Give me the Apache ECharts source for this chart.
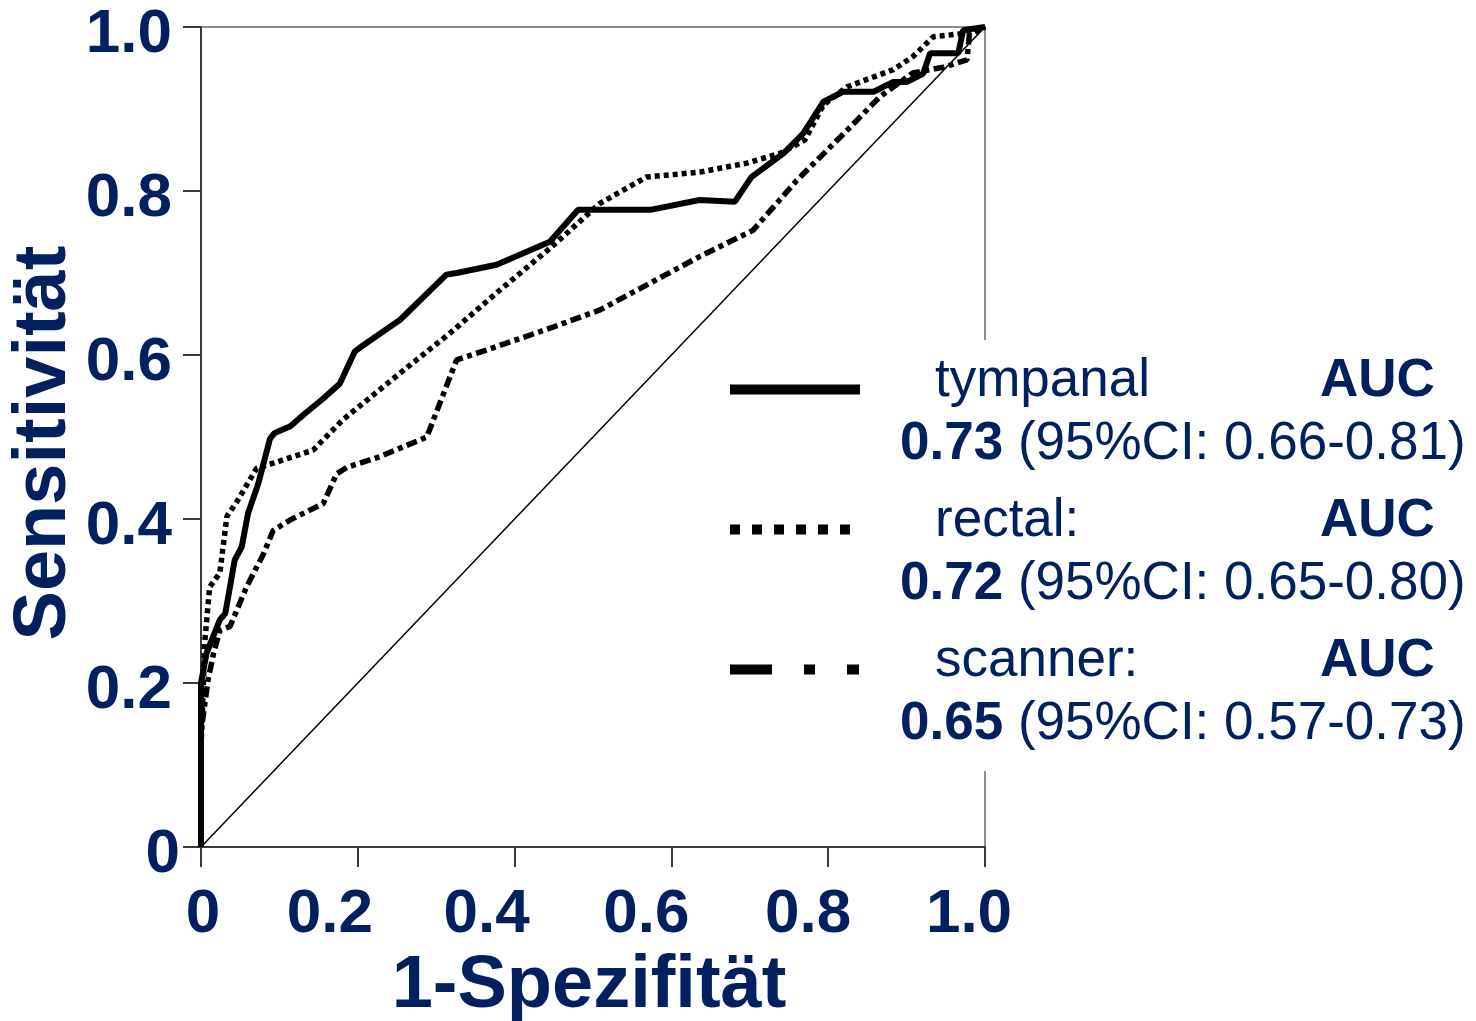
<!DOCTYPE html>
<html>
<head>
    <meta charset="utf-8">
    <title>ROC</title>
    <script src="https://cdn.jsdelivr.net/npm/echarts@6/dist/echarts.min.js"></script>
</head>
<body style="margin:0;background:#fff;">
    <div id="main" style="width:1476px;height:1021px;"></div>
    <script type="text/javascript">
    // ROC-Kurven, Werte [1-Spezifität, Sensitivität]
    var tympanal = [[0,0],[0,0.20],[0.007,0.236],[0.024,0.277],[0.031,0.285],[0.043,0.35],[0.052,0.366],[0.060,0.407],
        [0.073,0.443],[0.088,0.498],[0.094,0.505],[0.114,0.513],[0.133,0.529],[0.156,0.547],[0.177,0.565],[0.196,0.604],
        [0.207,0.612],[0.254,0.643],[0.313,0.698],[0.326,0.700],[0.377,0.710],[0.445,0.738],[0.481,0.777],[0.573,0.777],
        [0.636,0.789],[0.681,0.787],[0.702,0.817],[0.743,0.846],[0.768,0.870],[0.794,0.909],[0.819,0.921],[0.858,0.921],
        [0.883,0.933],[0.900,0.933],[0.921,0.943],[0.930,0.968],[0.966,0.968],[0.972,0.996],[1,1]];
    var rectal = [[0,0],[0,0.12],[0.005,0.252],[0.011,0.317],[0.024,0.334],[0.033,0.403],[0.047,0.423],[0.071,0.462],
        [0.092,0.468],[0.143,0.484],[0.181,0.521],[0.254,0.578],[0.318,0.627],[0.381,0.679],[0.445,0.730],[0.509,0.785],
        [0.568,0.817],[0.636,0.823],[0.696,0.834],[0.739,0.846],[0.770,0.862],[0.794,0.905],[0.824,0.927],[0.883,0.948],
        [0.908,0.964],[0.934,0.988],[0.981,0.993],[1,1]];
    var scanner = [[0,0],[0,0.14],[0.009,0.204],[0.016,0.236],[0.024,0.264],[0.037,0.269],[0.058,0.317],[0.080,0.358],
        [0.092,0.386],[0.114,0.399],[0.156,0.419],[0.173,0.455],[0.186,0.463],[0.228,0.476],[0.288,0.500],[0.326,0.594],
        [0.364,0.606],[0.449,0.634],[0.509,0.655],[0.636,0.720],[0.704,0.752],[0.760,0.813],[0.824,0.874],[0.866,0.915],
        [0.908,0.944],[0.947,0.951],[0.977,0.960],[0.980,0.990],[1,1]];
    var diagonal = [[0,0],[1,1]];

    var seriesNames = ['tympanal', 'rectal:', 'scanner:'];
    var aucValues = ['0.73', '0.72', '0.65'];
    var ciTexts = [' (95%CI: 0.66-0.81)', ' (95%CI: 0.65-0.80)', ' (95%CI: 0.57-0.73)'];
    var xTickLabels = ['0', '0.2', '0.4', '0.6', '0.8', '1.0'];
    var yTickLabels = ['0', '0.2', '0.4', '0.6', '0.8', '1.0'];

    var navy = '#002060';
    var font = "'Liberation Sans', Arial, sans-serif";
    var noSymbol = {color: 'rgba(0,0,0,0)', borderColor: 'rgba(0,0,0,0)', borderWidth: 0};

    function tickStyle(pad) {
        return {fontSize: 62, fontWeight: 'bold', color: navy, fontFamily: font, padding: pad};
    }

    var myChart = echarts.init(document.getElementById('main'));

    var option = {
        animation: false,
        grid: {
            left: 201, right: 491, top: 27, bottom: 174,
            outerBoundsMode: 'none',
            containLabel: false,
            show: true, borderColor: '#8c8c8c', borderWidth: 2
        },
        legend: {
            orient: 'vertical',
            left: 720,
            top: 340,
            padding: [15, 10, 20, 5],
            itemGap: 24,
            itemWidth: 130,
            itemHeight: 10,
            backgroundColor: '#fff',
            selectedMode: false,
            itemStyle: noSymbol,
            data: [
                {name: 'tympanal', lineStyle: {width: 10, type: 'solid'}, itemStyle: noSymbol},
                {name: 'rectal:', lineStyle: {width: 10, type: [10, 12]}, itemStyle: noSymbol},
                {name: 'scanner:', lineStyle: {width: 10, type: [42, 32, 11, 32, 12, 100]}, itemStyle: noSymbol}
            ],
            formatter: function (name) {
                var i = seriesNames.indexOf(name);
                return '{n|' + name + '}{a|AUC}\n{b|' + aucValues[i] + '}{c|' + ciTexts[i] + '}';
            },
            textStyle: {
                fontFamily: font,
                color: navy,
                rich: {
                    n: {fontSize: 53, fontFamily: font, color: navy, lineHeight: 110, width: 385, padding: [0, 0, 0, 70]},
                    a: {fontSize: 53, fontFamily: font, color: navy, fontWeight: 'bold', lineHeight: 110},
                    b: {fontSize: 53, fontFamily: font, color: navy, fontWeight: 'bold', lineHeight: 16, padding: [0, 0, 0, 35]},
                    c: {fontSize: 53, fontFamily: font, color: navy, lineHeight: 16}
                }
            }
        },
        xAxis: {
            type: 'value',
            min: 0, max: 1, interval: 0.2,
            name: '1-Spezifität',
            nameLocation: 'middle',
            nameGap: 103,
            nameMoveOverlap: false,
            nameTextStyle: {fontSize: 74, fontWeight: 'bold', color: navy, fontFamily: font, padding: [0, 8, 0, 0]},
            splitLine: {show: false},
            axisLine: {lineStyle: {color: '#3a3a3a', width: 2}},
            axisTick: {length: 20, lineStyle: {color: '#3a3a3a', width: 2}},
            axisLabel: {
                margin: 37,
                formatter: function (v, i) {
                    return '{x' + i + '|' + xTickLabels[i] + '}';
                },
                rich: {
                    x0: tickStyle([0, 0, 0, 4]),
                    x1: tickStyle([0, 56, 0, 0]),
                    x2: tickStyle([0, 56, 0, 0]),
                    x3: tickStyle([0, 50, 0, 0]),
                    x4: tickStyle([0, 40, 0, 0]),
                    x5: tickStyle([0, 32, 0, 0])
                }
            }
        },
        yAxis: {
            type: 'value',
            min: 0, max: 1, interval: 0.2,
            name: 'Sensitivität',
            nameLocation: 'middle',
            nameGap: 119,
            nameMoveOverlap: false,
            nameTextStyle: {fontSize: 74, fontWeight: 'bold', color: navy, fontFamily: font, padding: [0, 12, 0, 0]},
            splitLine: {show: false},
            axisLine: {lineStyle: {color: '#3a3a3a', width: 2}},
            axisTick: {length: 18, lineStyle: {color: '#3a3a3a', width: 2}},
            axisLabel: {
                margin: 21,
                formatter: function (v, i) {
                    return (i === 0 ? '{z|' : '{s|') + yTickLabels[i] + '}';
                },
                rich: {
                    z: tickStyle([15, 0, 0, 0]),
                    s: tickStyle([15, 8, 0, 0])
                }
            }
        },
        series: [
            {
                name: 'diagonal', type: 'line', data: diagonal, symbol: 'none', silent: true,
                lineStyle: {color: '#000', width: 1.5}, z: 1
            },
            {
                name: 'tympanal', type: 'line', data: tympanal, symbol: 'none',
                color: '#000', lineStyle: {color: '#000', width: 6, type: 'solid'}, z: 3
            },
            {
                name: 'rectal:', type: 'line', data: rectal, symbol: 'none',
                color: '#000', lineStyle: {color: '#000', width: 5.5, type: [5, 4]}, z: 2
            },
            {
                name: 'scanner:', type: 'line', data: scanner, symbol: 'none',
                color: '#000', lineStyle: {color: '#000', width: 5.5, type: [11, 4.5, 5, 4.5]}, z: 2
            }
        ]
    };

    myChart.setOption(option);
    </script>
</body>
</html>
